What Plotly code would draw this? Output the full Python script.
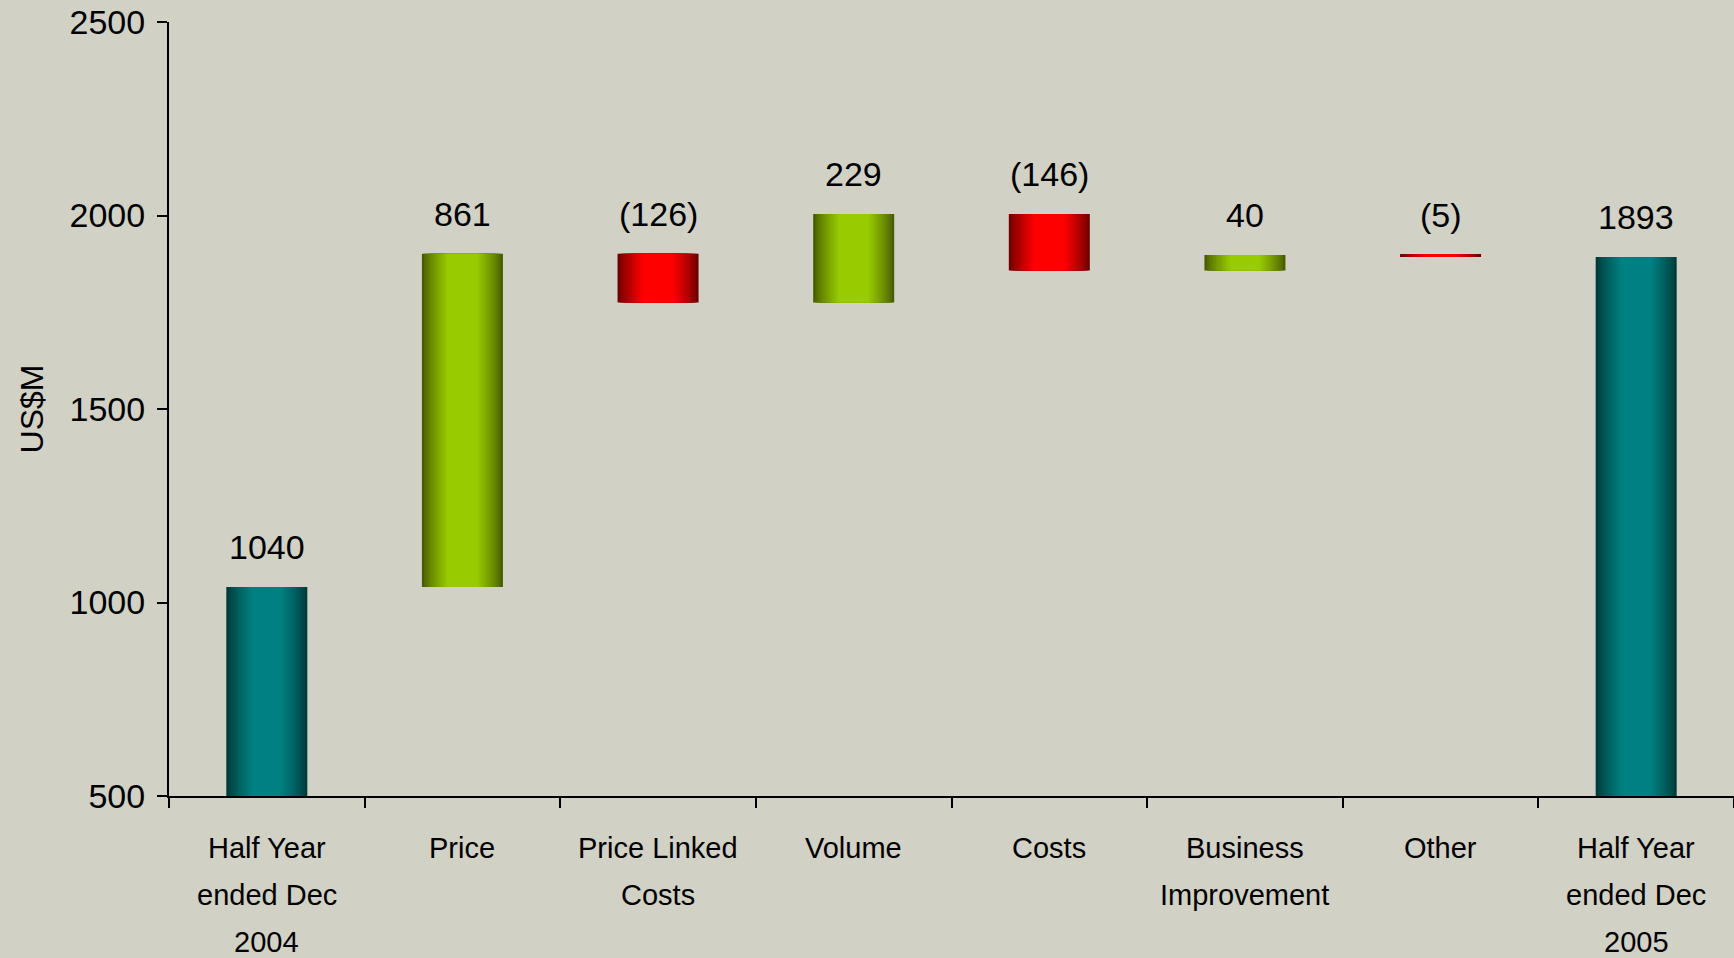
import plotly.graph_objects as go

# ---- data ----
categories = ["Half Year ended Dec 2004", "Price", "Price Linked Costs", "Volume",
              "Costs", "Business Improvement", "Other", "Half Year ended Dec 2005"]
category_lines = [["Half Year", "ended Dec", "2004"], ["Price"], ["Price Linked", "Costs"],
                  ["Volume"], ["Costs"], ["Business", "Improvement"], ["Other"],
                  ["Half Year", "ended Dec", "2005"]]
values = [1040, 861, -126, 229, -146, 40, -5, 1893]
kinds = ["total", "delta", "delta", "delta", "delta", "delta", "delta", "total"]
y_ticks = [500, 1000, 1500, 2000, 2500]

# ---- styles ----
BG = "#D1D1C5"
PALETTE = {  # (edge colour, centre colour)
    "total": ((0, 58, 58), (0, 128, 128)),
    "up": ((72, 92, 0), (153, 204, 0)),
    "down": ((110, 0, 0), (255, 0, 0)),
}
BAR_W = 0.414
N_LAYERS = 12
FONT = "Liberation Sans, Arial, sans-serif"

# bases / heights from the values
bases, heights, styles, tops = [], [], [], []
running = 0
for v, k in zip(values, kinds):
    if k == "total":
        bases.append(0)
        heights.append(v)
        styles.append("total")
        running = v
        tops.append(v)
    else:
        bases.append(running)
        heights.append(v)
        styles.append("up" if v >= 0 else "down")
        tops.append(max(running, running + v))
        running += v

labels = [f"({abs(v)})" if v < 0 else f"{v}" for v in values]


def mix(c1, c2, t):
    return "rgb({},{},{})".format(*[round(a + (b - a) * t) for a, b in zip(c1, c2)])


fig = go.Figure()
for i in range(N_LAYERS):
    t = i / (N_LAYERS - 1)
    frac = 1 - 0.62 * t
    tt = min(1.0, t ** 0.8)
    colors = [mix(PALETTE[s][0], PALETTE[s][1], tt) for s in styles]
    fig.add_trace(go.Bar(
        x=categories, y=heights, base=bases,
        width=[BAR_W * frac] * len(categories),
        marker=dict(color=colors, line=dict(width=0)),
        showlegend=False, hoverinfo="skip",
    ))

# value labels above bars
for cat, lab, top in zip(categories, labels, tops):
    fig.add_annotation(x=cat, y=top, text=lab, showarrow=False, yshift=40,
                       yanchor="middle", xanchor="center",
                       font=dict(family=FONT, size=34, color="black"))

# category labels (one annotation per line to mimic the wide line spacing)
for cat, lines in zip(categories, category_lines):
    for k, line in enumerate(lines):
        fig.add_annotation(x=cat, xref="x", y=0, yref="paper", text=line, showarrow=False,
                           yshift=-52 - 47 * k, yanchor="middle", xanchor="center",
                           font=dict(family=FONT, size=29, color="black"))

fig.update_layout(
    barmode="overlay",
    width=1734, height=958,
    paper_bgcolor=BG, plot_bgcolor=BG,
    margin=dict(l=169, r=0, t=22, b=162),
    font=dict(family=FONT, size=33, color="black"),
)
fig.update_xaxes(
    type="category", categoryorder="array", categoryarray=categories,
    range=[-0.5, len(categories) - 0.5],
    showline=True, linecolor="black", linewidth=2,
    ticks="outside", tickson="boundaries", ticklen=10, tickwidth=2, tickcolor="black",
    showgrid=False, zeroline=False, showticklabels=False,
)
fig.update_yaxes(
    range=[500, 2500], tickvals=y_ticks,
    showline=True, linecolor="black", linewidth=2,
    ticks="outside", ticklen=10, tickwidth=2, tickcolor="black",
    showgrid=False, zeroline=False,
    tickfont=dict(size=34), ticklabelstandoff=5,
    title=dict(text="US$M", font=dict(size=32), standoff=16),
)

fig.write_html("out.html", config={"displayModeBar": False},
               post_script="document.body.style.margin='0';")
